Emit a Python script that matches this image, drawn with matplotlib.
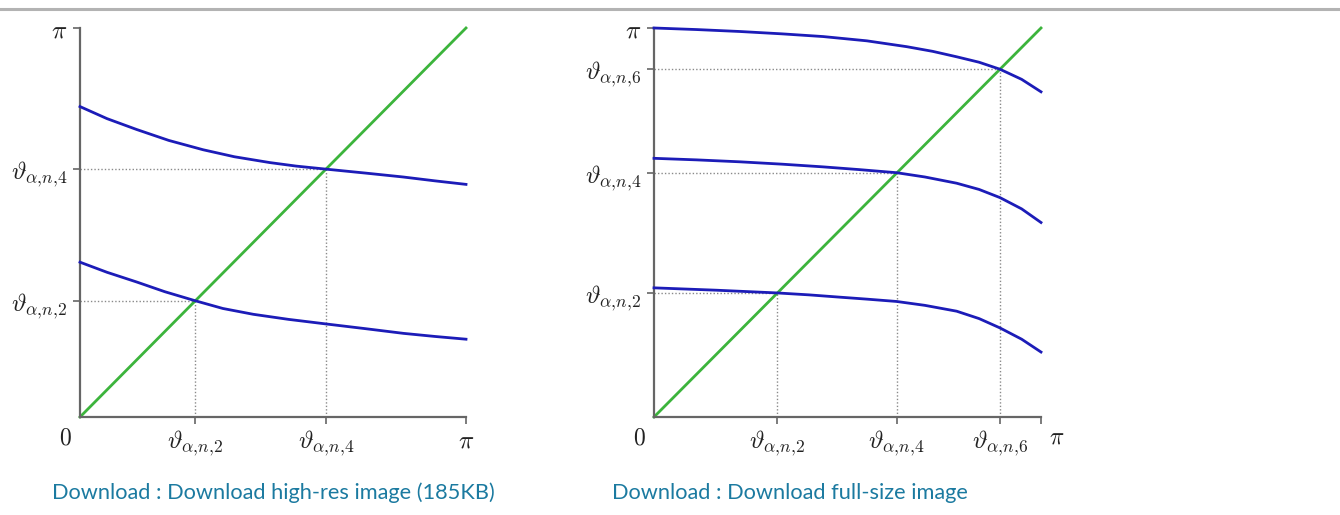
import matplotlib
matplotlib.use("Agg")
import matplotlib.pyplot as plt
from matplotlib.lines import Line2D
import numpy as np

plt.rcParams['mathtext.fontset'] = 'cm'

# ---- data (in units of pi) ----
left_ticks = [0.298, 0.637]
left_tick_labels = [r'$\vartheta_{\alpha{,}n{,}2}$', r'$\vartheta_{\alpha{,}n{,}4}$']
left_upper_x = [0.0, 0.07, 0.147, 0.23, 0.319, 0.40, 0.492, 0.56, 0.639, 0.74, 0.837, 0.92, 1.0]
left_upper_y = [0.798, 0.767, 0.739, 0.711, 0.687, 0.669, 0.654, 0.645, 0.637, 0.627, 0.617, 0.607, 0.598]
left_lower_x = [0.0, 0.07, 0.147, 0.22, 0.298, 0.37, 0.449, 0.54, 0.639, 0.74, 0.838, 0.92, 1.0]
left_lower_y = [0.398, 0.372, 0.347, 0.322, 0.299, 0.279, 0.264, 0.251, 0.239, 0.227, 0.215, 0.207, 0.200]

right_ticks = [0.318, 0.627, 0.894]
right_tick_labels = [r'$\vartheta_{\alpha{,}n{,}2}$', r'$\vartheta_{\alpha{,}n{,}4}$',
                     r'$\vartheta_{\alpha{,}n{,}6}$']
right_top_x = [0.0, 0.11, 0.222, 0.33, 0.437, 0.55, 0.653, 0.72, 0.782, 0.84, 0.894, 0.95, 1.0]
right_top_y = [1.0, 0.996, 0.991, 0.985, 0.978, 0.967, 0.952, 0.940, 0.926, 0.912, 0.894, 0.868, 0.836]
right_mid_x = [0.0, 0.11, 0.222, 0.33, 0.437, 0.53, 0.627, 0.70, 0.782, 0.84, 0.894, 0.95, 1.0]
right_mid_y = [0.665, 0.661, 0.656, 0.650, 0.643, 0.636, 0.628, 0.617, 0.601, 0.585, 0.564, 0.535, 0.500]
right_bot_x = [0.0, 0.16, 0.317, 0.40, 0.481, 0.55, 0.627, 0.70, 0.782, 0.84, 0.894, 0.95, 1.0]
right_bot_y = [0.332, 0.326, 0.319, 0.314, 0.308, 0.303, 0.297, 0.287, 0.272, 0.253, 0.229, 0.200, 0.167]

diag = [0.0, 1.0]

BLUE = '#1c1cb8'
GREEN = '#3cb43c'
AXC = '#666666'
DOT = '#8a8a8a'
LINK = '#1b7aa0'
LBL = '#222222'

W, H = 1340, 515
fig = plt.figure(figsize=(W / 100, H / 100), dpi=100)

def px_axes(x0, y0, x1, y1):
    return fig.add_axes([x0 / W, 1 - y1 / H, (x1 - x0) / W, (y1 - y0) / H])

pi = np.pi

def style(ax, ticks):
    ax.set_xlim(0, pi)
    ax.set_ylim(0, pi)
    for s in ['top', 'right']:
        ax.spines[s].set_visible(False)
    for s in ['left', 'bottom']:
        ax.spines[s].set_color(AXC)
        ax.spines[s].set_linewidth(1.6)
    t = [v * pi for v in ticks]
    ax.set_xticks(t + [pi])
    ax.set_yticks(t + [pi])
    ax.tick_params(direction='out', length=5, width=1.2, color=AXC,
                   labelsize=18, labelcolor=LBL)
    ax.tick_params(axis='x', pad=3)
    ax.tick_params(axis='y', pad=4)
    for tv in t:
        ax.plot([tv, tv], [0, tv], ls=(0, (1, 1.5)), color=DOT, lw=1, zorder=1)
        ax.plot([0, tv], [tv, tv], ls=(0, (1, 1.5)), color=DOT, lw=1, zorder=1)
    ax.plot([d * pi for d in diag], [d * pi for d in diag], color=GREEN, lw=2, zorder=2,
            clip_on=False)

# left
axL = px_axes(80, 28, 466, 417)
style(axL, left_ticks)
axL.set_xticklabels(left_tick_labels + [r'$\pi$'])
axL.set_yticklabels(left_tick_labels + [r'$\pi$'])
for xs, ys in [(left_upper_x, left_upper_y), (left_lower_x, left_lower_y)]:
    axL.plot([v * pi for v in xs], [v * pi for v in ys], color=BLUE, lw=2, zorder=3,
             clip_on=False, solid_joinstyle='round')
axL.text(-0.022, -0.022, r'$0$', transform=axL.transAxes, ha='right', va='top',
         fontsize=17, color=LBL)

# right
axR = px_axes(654, 28, 1041, 417)
style(axR, right_ticks)
axR.set_xticklabels(right_tick_labels + [''])
axR.set_yticklabels(right_tick_labels + [r'$\pi$'])
for xs, ys in [(right_top_x, right_top_y), (right_mid_x, right_mid_y), (right_bot_x, right_bot_y)]:
    axR.plot([v * pi for v in xs], [v * pi for v in ys], color=BLUE, lw=2, zorder=3,
             clip_on=False, solid_joinstyle='round')
axR.text(-0.022, -0.022, r'$0$', transform=axR.transAxes, ha='right', va='top',
         fontsize=17, color=LBL)
axR.text(1.02, -0.018, r'$\pi$', transform=axR.transAxes, ha='left', va='top',
         fontsize=17, color=LBL)

# top rule
fig.add_artist(Line2D([0, 1], [1 - 9 / H, 1 - 9 / H], color='#b3b3b3', lw=2.2,
                      transform=fig.transFigure))

# links
fig.text(52 / W, 1 - 493 / H, 'Download : Download high-res image (185KB)',
         color=LINK, fontsize=15.7, family='Lato', va='center', ha='left')
fig.text(612 / W, 1 - 493 / H, 'Download : Download full-size image',
         color=LINK, fontsize=15.7, family='Lato', va='center', ha='left')

fig.savefig('out.png', dpi=100)
